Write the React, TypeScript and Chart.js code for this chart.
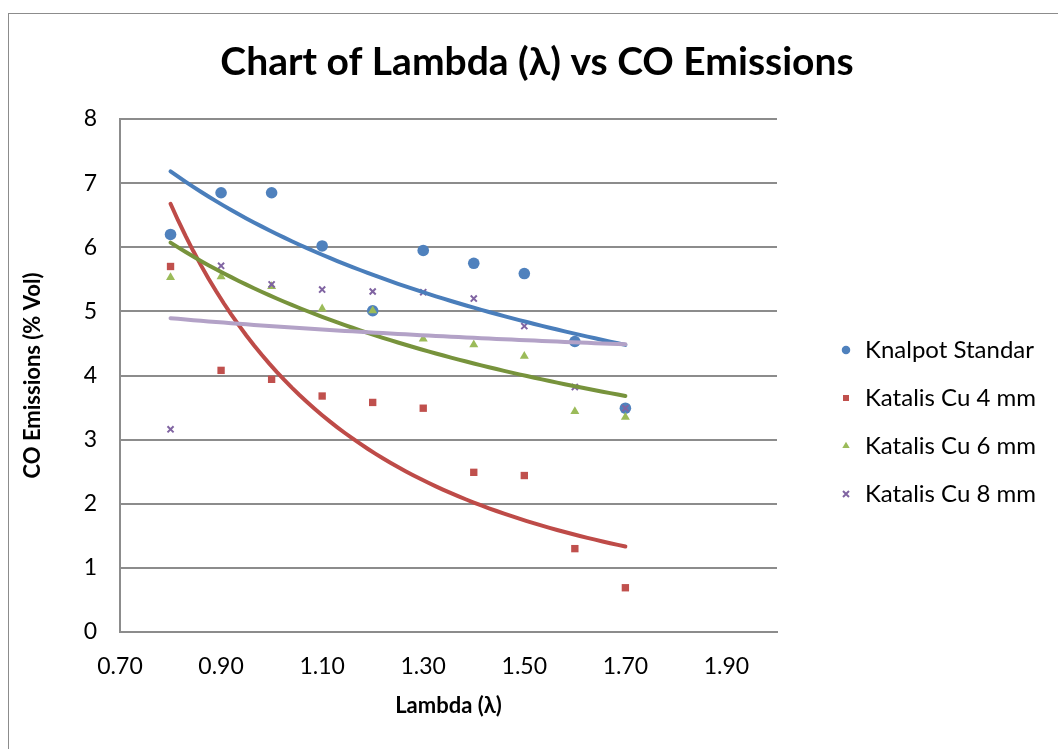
import React, { useEffect, useRef } from 'react';
import { Chart, registerables } from 'chart.js';

Chart.register(...registerables);

// ---- data ----
const lambdaValues = [0.8, 0.9, 1.0, 1.1, 1.2, 1.3, 1.4, 1.5, 1.6, 1.7];
const knalpotStandar = [6.2, 6.85, 6.85, 6.02, 5.01, 5.95, 5.75, 5.59, 4.53, 3.49];
const katalisCu4 = [5.7, 4.08, 3.94, 3.68, 3.58, 3.49, 2.49, 2.44, 1.3, 0.69];
const katalisCu6 = [5.53, 5.54, 5.39, 5.04, 5.01, 4.57, 4.48, 4.3, 3.44, 3.35];
const katalisCu8 = [3.16, 5.71, 5.42, 5.34, 5.31, 5.3, 5.2, 4.77, 3.82, 3.49];
const seriesNames = ['Knalpot Standar', 'Katalis Cu 4 mm', 'Katalis Cu 6 mm', 'Katalis Cu 8 mm'];
const xTickValues = [0.7, 0.9, 1.1, 1.3, 1.5, 1.7, 1.9];
const yTickValues = [0, 1, 2, 3, 4, 5, 6, 7, 8];

const chartTitle = 'Chart of Lambda (λ) vs CO Emissions';
const xTitle = 'Lambda (λ)';
const yTitle = 'CO Emissions (% Vol)';

const FONT = 'Lato';
const TITLE_SIZE = 39;
const TICK_SIZE = 23;
const AXIS_TITLE_SIZE = 22;
const LEGEND_SIZE = 24;

const markerColors = ['#4F81BD', '#C0504D', '#9BBB59', '#8064A2'];
const trendColors = ['#4A7EBB', '#BE4B48', '#77933C', '#B3A2C7'];
const pointStyles = ['circle', 'rect', 'triangle', 'crossRot'];
const pointRadii = [5.8, 5.2, 5.2, 4.3];

// Excel-style power trendline (y = a * x^b), least squares on ln-ln
function powerFit(xs: number[], ys: number[]) {
  const lx = xs.map((v) => Math.log(v));
  const ly = ys.map((v) => Math.log(v));
  const n = xs.length;
  const mx = lx.reduce((s, v) => s + v, 0) / n;
  const my = ly.reduce((s, v) => s + v, 0) / n;
  let sxy = 0;
  let sxx = 0;
  for (let i = 0; i < n; i++) {
    sxy += (lx[i] - mx) * (ly[i] - my);
    sxx += (lx[i] - mx) * (lx[i] - mx);
  }
  const b = sxy / sxx;
  const a = Math.exp(my - b * mx);
  const xMin = Math.min(...xs);
  const xMax = Math.max(...xs);
  const pts: { x: number; y: number }[] = [];
  const steps = 60;
  for (let i = 0; i <= steps; i++) {
    const x = xMin + ((xMax - xMin) * i) / steps;
    pts.push({ x, y: a * Math.pow(x, b) });
  }
  return pts;
}

const boxPlacer = {
  id: 'boxPlacer',
  afterLayout(chart: any) {
    const lg = chart.legend;
    if (lg) {
      lg.left = 806;
      lg.width = 240;
      lg.right = lg.left + lg.width;
      const h = lg.height;
      lg.top = 300;
      lg.bottom = lg.top + h;
    }
    const tb = chart.titleBlock;
    if (tb) {
      tb.left = 8;
      tb.right = 1048;
      tb.width = tb.right - tb.left;
    }
  },
};

export default function App() {
  const canvasRef = useRef<HTMLCanvasElement | null>(null);

  useEffect(() => {
    if (!canvasRef.current) return;
    const allSeries = [knalpotStandar, katalisCu4, katalisCu6, katalisCu8];

    const scatterSets = allSeries.map((vals, i) => ({
      type: 'scatter' as const,
      label: seriesNames[i],
      data: lambdaValues.map((x, j) => ({ x, y: vals[j] })),
      backgroundColor: markerColors[i],
      borderColor: markerColors[i],
      pointStyle: pointStyles[i],
      pointRadius: pointRadii[i],
      pointBorderWidth: i === 3 ? 2 : 0,
      showLine: false,
      order: 10 - i,
    }));

    const trendSets = allSeries.map((vals, i) => ({
      type: 'line' as const,
      label: seriesNames[i] + ' trend',
      data: powerFit(lambdaValues, vals),
      borderColor: trendColors[i],
      backgroundColor: trendColors[i],
      borderWidth: 4,
      pointRadius: 0,
      tension: 0,
      fill: false,
      borderCapStyle: 'round' as const,
      order: 4 - i,
    }));

    const chart = new Chart(canvasRef.current, {
      type: 'scatter',
      data: { datasets: [...scatterSets, ...trendSets] as any },
      plugins: [boxPlacer],
      options: {
        animation: false,
        responsive: false,
        events: [],
        layout: { padding: { left: 8.6, right: 81, top: 0, bottom: 0 } },
        plugins: {
          title: {
            display: true,
            text: chartTitle,
            color: '#000',
            font: { family: FONT, size: TITLE_SIZE, weight: 'bold' },
            padding: { top: 48 - 0.6 * TITLE_SIZE, bottom: 57 - 0.6 * TITLE_SIZE },
          },
          legend: {
            display: true,
            position: 'right',
            align: 'start',
            maxWidth: 200,
            labels: {
              usePointStyle: true,
              boxWidth: 14,
              boxHeight: 6,
              padding: 24,
              color: '#000',
              font: { family: FONT, size: LEGEND_SIZE },
              filter: (item: any) => item.datasetIndex < 4,
              sort: (a: any, b: any) => a.datasetIndex - b.datasetIndex,
            },
          },
          tooltip: { enabled: false },
        },
        scales: {
          x: {
            type: 'linear',
            min: 0.7,
            max: 2.0,
            afterBuildTicks: (scale: any) => {
              scale.ticks = xTickValues.map((v) => ({ value: v }));
            },
            afterFit: (scale: any) => {
              scale.height = 118;
            },
            grid: { display: false, drawTicks: false },
            border: { display: true, color: '#8c8c8c', width: 2 },
            ticks: {
              color: '#000',
              padding: 21.2,
              font: { family: FONT, size: TICK_SIZE },
              callback: (v: any) => Number(v).toFixed(2),
              maxRotation: 0,
              autoSkip: false,
            },
            title: {
              display: true,
              text: xTitle,
              color: '#000',
              font: { family: FONT, size: AXIS_TITLE_SIZE, weight: 'bold' },
              padding: { top: 0, bottom: 736 - 692 - 0.6 * AXIS_TITLE_SIZE },
            },
          },
          y: {
            type: 'linear',
            min: 0,
            max: 8,
            afterBuildTicks: (scale: any) => {
              scale.ticks = yTickValues.map((v) => ({ value: v }));
            },
            afterFit: (scale: any) => {
              scale.width = 102.4;
            },
            grid: { display: true, color: '#8c8c8c', lineWidth: 2, drawTicks: false },
            border: { display: true, color: '#8c8c8c', width: 2 },
            ticks: {
              color: '#000',
              padding: 23,
              font: { family: FONT, size: TICK_SIZE },
              autoSkip: false,
            },
            title: {
              display: true,
              text: yTitle,
              color: '#000',
              font: { family: FONT, size: AXIS_TITLE_SIZE, weight: 'bold' },
              padding: { top: 2, bottom: 0 },
            },
          },
        },
      } as any,
    });

    return () => chart.destroy();
  }, []);

  return (
    <div
      style={{
        position: 'fixed',
        left: 0,
        top: 0,
        width: 1058,
        height: 749,
        overflow: 'hidden',
        background: '#fff',
      }}
    >
      <div
        style={{
          position: 'absolute',
          left: 8,
          top: 13,
          width: 1049,
          height: 740,
          border: '1px solid #8c8c8c',
          background: '#fff',
        }}
      >
        <canvas
          ref={canvasRef}
          width={1049}
          height={736}
          style={{ display: 'block', width: 1049, height: 736 }}
        />
      </div>
    </div>
  );
}
